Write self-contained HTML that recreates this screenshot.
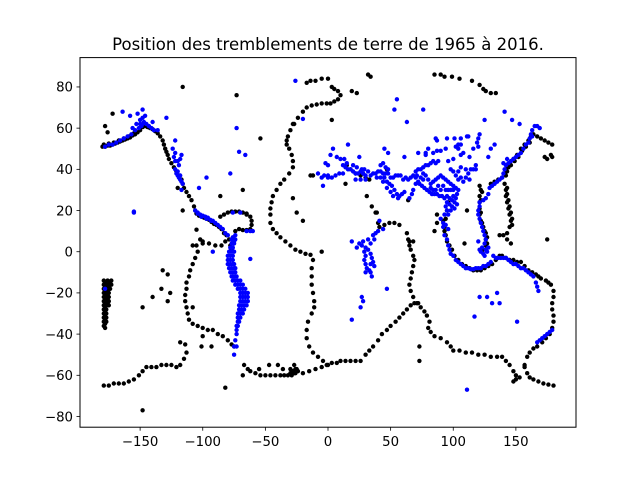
<!DOCTYPE html>
<html><head><meta charset="utf-8"><style>
html,body{margin:0;padding:0;background:#fff;}
svg{display:block;font-family:"DejaVu Sans","Liberation Sans",sans-serif;}
</style></head><body>
<svg id="chart" width="640" height="480" viewBox="0 0 640 480" xmlns="http://www.w3.org/2000/svg">
<rect x="0" y="0" width="640" height="480" fill="#fff"/>
<text x="328" y="50" text-anchor="middle" font-size="16.5" fill="#000">Position des tremblements de terre de 1965 à 2016.</text>
<g id="marks-black"></g>
<g id="marks-blue"></g>
<rect x="80" y="57.6" width="496" height="369.6" fill="none" stroke="#000" stroke-width="1"/>
<g id="xaxis"></g>
<g id="yaxis"></g>
</svg>
<script>
const xTicks = [-150,-100,-50,0,50,100,150];
const yTicks = [-80,-60,-40,-20,0,20,40,60,80];
const blackQuakes = [
[-180,51],[-178,51],[-176,51.5],[-174,51.5],[-172,52],[-170,52.5],[-168,53],[-166,53.5],[-164,54],[-162,54.5],[-160,55],[-158,55.5],[-156,56.5],[-154,57],[-152,58],[-150,59],[-148,60.5],[-146,61],[-144,60.5],[-142,60],[-140,59.5],[-138,58.5],[-136,57.5],[-134,56],
[-179,52],[-175,52.5],[-171,53],[-167,54],[-163,55],[-159,56],[-155,57.5],
[-172,67],[-178,61],[-176,58],
[-132,54],[-131,52],[-130,50],[-129,48.5],[-128,47],[-127,45],[-125,43],[-123,41],[-121,39],[-119,37],[-117,35],[-116,33],[-115,31],[-113,29],[-111,27],[-109,25],[-107,22],[-106,20],
[-86,27],[-68,30],[-116,20],[-120,31],
[-105,18.5],[-103,17.5],[-101,17],[-99,16.5],[-97,16],[-95,15.5],[-93,14.5],[-91,13.5],[-89,13],[-87,12],[-85,11],[-83,9],[-81,8],[-79,6],[-78,3],[-77,1],
[-86,17],[-83,18],[-80,19],[-77,19.5],[-74,19.5],[-71,19.5],[-68,19],[-65,18.5],[-62,17],[-61,15],[-61,13],[-62,11],[-65,10.5],[-68,10.5],[-71,11],[-74,10],[-65,18],
[-105,10.7],[-102,6],[-100,5],[-108,3],
[-17,70],[-20,68],[-24,65],[-27,62],[-30,59],[-32,56],[-33,54],[-33,52],[-31,50],[-29,47],[-28,44],[-28,41],[-31,38],[-35,35],[-38,33],[-41,30],[-44,27],[-45,24],[-46,21],[-46,18],[-46,14],[-44,11],[-41,9],[-38,7],[-34,5],[-30,3],[-26,1],[-22,0],[-18,-1],[-14,-1.5],[-12,-4],
[-13,71],[-9,71.5],[-5,72],[-1,72],[2,72],[5,73],[8,74],[10,76],[8,78],[5,79],[3,80],[-17,82],[-14,83],[-10,83],[-5,84],[0,84],[19,78],[23,77],[32,86],[34,85],[85,86],[90,86],[93,85],[99,85],[105,84],[115,83],[121,81],[124,79],[126,78],[130,77],[134,77],
[-116,80],[-73,76],[-54,55],[3,64],[-28,62],
[-13,-8],[-13,-12],[-13,-16],[-12,-20],[-11,-24],[-11,-27],[-13,-30],[-16,-34],[-17,-38],[-17,-42],[-15,-46],[-12,-49],[-8,-51],[-4,-53],[-1,-55],
[-28,26],[-25,19],[-14,37],[-12,37],[-20,15],
[-27,-55],[-26,-57],[-27,-59],[-29,-60],[-28,-58],[-30,-57],[-32,-60],[-35,-60],[-38,-60],[-42,-60],[-46,-60],[-50,-60],[-54,-60],[-58,-59],[-62,-58],[-64,-57],[-67,-55],[-68,-60],[-47,-55],[-40,-55],[-55,-57],[-36,-57],[-20,-59],[-15,-58],[-10,-57],[-5,-56],[0,-55],[-24,-58],[-30,-59],[-26,-59],[-25,-57],[-29,-58],
[3,-54],[7,-54],[10,-53],[14,-53],[18,-53],[22,-53],[26,-53],[30,-50],[33,-48],[36,-46],[40,-43],[43,-40],[47,-38],[50,-36],[54,-34],[57,-32],[60,-30],[63,-28],[66,-26],[69,-25],[72,-25],
[64,6],[65,3],[66,1],[68,-2],[69,-4],[68,-7],[67,-10],[66,-13],[65,-16],[66,-19],[68,-22],[71,-25],
[65,5],[63,9],[57,13],[53,14],[49,14],[45,13],[41,12],[31,27],[35,22],[38,19],
[74,-27],[77,-29],[79,-31],[81,-34],[80,-37],[82,-39],[85,-41],[90,-42],[95,-44],[98,-46],[100,-48],[105,-48],[110,-49],[115,-49],[120,-50],[125,-50],[130,-51],[135,-51],[139,-51],[142,-53],[145,-55],[148,-58],[150,-60],[153,-61],[150,-62],[148,-63],
[73,-46],[73,-53],
[157,-56],[159,-59],[161,-61],[164,-62],[168,-63],[172,-64],[176,-64.5],[180,-65],
[157,-55],[159,-51],[161,-49],[164,-47],[167,-46],[171,-44],[174,-42],[177,-40],[179,-37],[180,-34],[180,-31],[179,-28],[179,-25],[180,-22],[180,-19],[178,-16],[176,-15],[174,-14],
[170,-13],[168,-12],[166,-11],[163,-10],[160,-9],[157,-7],[154,-5],[151,-5],[148,-4],[145,-4],[142,-3],[139,-2],[137,-2],[134,-4],[131,-6],[128,-7],[125,-8],[122,-9],[119,-9],[116,-9],[113,-8],[110,-7],[107,-6],[104,-4],[101,-2],[99,1],[97,3],[95,5],[94,8],[93,12],[94,16],[95,20],[96,24],[92,15],[93,10],
[122,30],[121,27],[121,24],[121,21],[121,18],[122,15],[124,12],[126,9],[126,6],[126,3],[124,1],
[123,29],[122,25],[122,19],[123,14],[125,10],[127,7],[127,4],
[130,33],[133,34],[136,35],[139,36],[141,38],[142,40],[143,42],[145,43],[148,45],[151,47],[154,50],[157,52],[160,54],[162,56],[164,57],[167,56],[170,55],[173,54],[176,53],[179,52],
[142,37],[143,39],[144,41],[146,42],[149,44],[152,46],[155,49],[158,51],[161,53],
[141,33],[142,30],[142,27],[143,24],[144,21],[145,18],[146,15],[145,12],[143,9],[140,8],[137,8],[143,6],[146,4],
[143,31],[143,28],[144,25],[145,22],[146,19],[147,16],[147,13],
[15,42],[18,40],[22,38],[26,37],[28,38],[30,36],[33,35],[47,40],[64,25],[14,33],
[39,19],[40,14],[68,5],[85,10],[87,18],[111,20],[121,32],[175,45],[179,46],[175,6],[109,4],[87,14],[173,46],[178,47],
[-105,3],[-100,4],[-95,4],[-90,3],[-85,3],[-82,5],
[-104,0],[-106,-3],[-108,-6],[-110,-9],[-111,-12],[-113,-15],[-113,-18],[-114,-21],[-114,-24],[-113,-27],[-112,-30],[-111,-33],[-108,-35],[-104,-36],[-100,-37],[-96,-38],[-92,-38],[-88,-40],[-84,-41],[-80,-43],[-77,-45],[-75,-46],
[-113,-49],[-115,-52],[-118,-55],[-121,-56],[-125,-55],[-129,-55],[-133,-55],[-137,-56],[-141,-56],[-145,-56],[-148,-58],[-151,-60],[-155,-62],[-159,-63],[-163,-64],[-167,-64],[-171,-64],[-175,-65],[-179,-65],[-114,-45],[-118,-44],
[-132,-9],[-128,-11],[-133,-18],[-126,-20],[-140,-22],[-128,-24],[-148,-27],[-108,-27],[-100,-41],[-93,-46],[-101,-46],[-82,-66],[-148,-77],[-5,0],
[-179,-14],[-176,-14],[-173,-14],[-179,-16],[-176,-16],[-173,-16],[-179,-18],[-176,-18],[-174,-18],[-179,-20],[-177,-20],[-175,-20],[-179,-22],[-177,-22],[-175,-22],[-179,-24],[-177,-24],[-175,-24],[-179,-26],[-177,-26],[-175,-26],[-179,-28],[-177,-28],[-179,-30],[-177,-30],[-179,-32],[-177,-32],[-179,-34],[-177,-34],[-179,-36],[-178,-37],
[-178,-15],[-174,-15],[-178,-17],[-175,-17],[-178,-19],[-176,-19],[-178,-21],[-176,-21],[-178,-23],[-176,-23],[-178,-25],[-176,-25],[-178,-27],[-178,-29],[-178,-31],[-178,-33],[-178,-35]
];
const blueQuakes = [
[-158,66],[-152,67],[-146,66],[-150,64],[-147,63],[-153,62],[-149,61],[-151,60],[-154,59],[-157,57],[-160,56],[-163,55],[-166,54],[-169,53],[-172,52],[-175,52],[-178,51],[-145,62],[-143,61],[-141,60],[-139,59],[-136,59],[-148,62],[-150,62],[-156,60],[-140,63],[-148,65],[-164,68],[-148,69],
[-122,40],[-121,38],[-120,37],[-119,36],[-118,35],[-117,34],[-116,33],[-120,39],[-118,37],[-123,46],[-122,44],[-122,48],[-120,44],[-118,45],[-117,47],[-119,42],[-117,30],[-124,50],
[-78,38],[-97,36],[-103,31],[-71,48.5],[-66,47],[-73,60],[-122,54],[-129,65],[-26,83],
[-155,19.5],[-155,19],
[-106,20],[-104,18.5],[-102,18],[-100,17.5],[-98,17],[-96,16.5],[-94,15.5],[-92,15],[-90,14],[-88,13],[-86,12],[-84,11],[-82,9],[-80,8],[-104,19],[-101,17],[-97,16],[-93,15],
[-76,19],[-70,19],[-65,10],[-62,10],[-60,10],[-74,8],[-75,5],[-76,7],
[-77,6],[-74,6],[-77,4],[-75,4],[-78,2],[-76,2],[-79,0],[-77,0],[-75,0],[-80,-2],[-78,-2],[-76,-2],[-80,-4],[-78,-4],[-76,-4],[-80,-6],[-78,-6],[-76,-6],[-75,-6],[-79,-8],[-77,-8],[-75,-8],[-74,-8],[-78,-10],[-76,-10],[-74,-10],[-77,-12],[-75,-12],[-73,-12],[-76,-14],[-74,-14],[-72,-14],[-70,-14],[-74,-16],[-72,-16],[-70,-16],[-68,-16],[-72,-18],[-70,-18],[-68,-18],[-66,-18],[-70,-20],[-68,-20],[-66,-20],[-64,-20],[-70,-22],[-68,-22],[-66,-22],[-64,-22],[-70,-24],[-68,-24],[-66,-24],[-64,-24],[-71,-26],[-69,-26],[-67,-26],[-65,-26],[-71,-28],[-69,-28],[-67,-28],[-72,-30],[-70,-30],[-68,-30],[-72,-32],[-70,-32],[-72,-34],[-71,-34],[-73,-36],[-72,-36],[-73,-38],[-73,-40],[-74,-43],[-75,-46],[-73,-46],[-75,-50],
[-62,-3.5],[-92,0],
[-20,64.5],[0,42],[0,37],[-4,32],
[-5,36],[-3,37],[0,36],[3,36],[6,37],[9,38],[12,38],[12,42],[14,41],[16,40],[18,40],[20,39],[22,38],[24,38],[26,39],[28,38],[30,37],[27,40],[23,41],[20,42],[15,43],[13,45],[10,45],[7,46],[2,47],[-2,43],[29,40],[32,39],[34,37],[26,35],[22,35],[30,35],[25,46],[-8,38],
[36,38],[38,38],[40,39],[42,39],[44,38],[46,38],[48,38],[45,36],[47,34],[49,33],[51,32],[53,30],[55,28],[57,27],[59,28],[61,29],[50,36],[52,36],[54,37],[56,37],[58,37],[60,35],[47,31],[50,29],[52,27],[56,26],[44,34],[42,36],[39,36],[48,40],[46,41],[44,43],[42,42],
[62,36],[64,35],[66,36],[68,37],[70,36],[71,37],[70,39],[72,40],[74,40],[76,41],[78,42],[80,42],[82,43],[84,44],[86,43],[88,44],[74,36],[76,35],[72,34],[70,33],[68,30],[67,28],[65,26],[73,33],[75,32],[77,31],[79,30],[81,29],[83,28],[85,28],[87,28],[89,27],[91,27],[93,26],[95,27],[95,24],[94,22],[95,20],[96,18],[97,26],[99,25],[101,24],[100,27],[102,26],[103,28],[104,30],[102,31],[100,32],[98,33],[96,34],[94,35],[92,36],[90,37],[88,36],[86,35],[84,34],[82,33],[80,35],[78,37],[76,38],[90,30],[92,32],[94,30],[96,30],[98,30],[100,30],[88,32],[86,30],[84,30],[82,31],[103,23],[101,21],[99,22],[97,23],[104,35],[106,36],[102,37],[100,39],[98,40],[104,39],[106,41],[108,34],[110,36],[112,38],[114,40],[116,40],[118,40],[113,35],[98,20],[93,18],[92,14],[90,16],[94,13],[96,11],[104,50],[102,51],[106,47],[94,50],[90,49],[87,49],[100,45],[96,44],[108,48],[113,46],[80,50],[78,47],[84,48],[110,40],[118,42],[116,50],[119,53],[120,51],[106,52],[86,55],[48,48],[45,50],[61,46],
[55,74],[53,69],[76,69],[63,63],[125,64],[147,64],[141,68],[153,62],[111,56],[121,57],[95,55],[87,54],[4,50],[16,52],[112,56],[106,55],[101,55],[104,52],[120,55],[130,50],[128,46],[133,52],[72,48],[78,48],
[160,53],[158,52],[156,50],[154,48],[152,47],[150,46],[148,45],[146,44],[144,43],[142,42],[141,40],[140,38],[139,36],[137,35],[135,34],[133,33],[131,32],[129,31],[161,55],[162,57],[163,59],[165,61],[167,61],[169,60],[163,56],[140,43],[143,45],
[121,24],[121,22],[120,20],[120,18],[121,16],[122,14],[123,12],[124,10],[125,8],[126,6],[125,4],[123,2],[122,0],[121,1],[120,5],[126,1],[124,-1],[128,28],[126,26],[124,25],
[95,6],[96,3],[97,1],[98,-1],[100,-2],[102,-4],[104,-5],[106,-6],[108,-7],[110,-8],[112,-8],[114,-8.5],[116,-8.5],[118,-8],[120,-8],[122,-8],[124,-7],[126,-7],[128,-6],[130,-5],[132,-2],[134,-3],[136,-3],[138,-3],[140,-3],[142,-3],[144,-4],[146,-5],[148,-6],[150,-6],[152,-7],[154,-8],[156,-8],[158,-9],[160,-10],[162,-11],[164,-12],[166,-15],[167,-17],[168,-19],[127,0],[128,2],[125,-2],
[167,-44],[169,-43],[171,-42],[173,-41],[175,-40],[177,-39],[179,-38],[-178,-18],
[28,5],[30,2],[29,0],[30,-2],[29,-4],[30,-6],[31,-8],[33,-9],[34,-10],[35,-12],[27,3],[32,1],[34,-1],[35,-3],[36,-5],[34,-6],[30,-10],[37,-7],[25,4],[23,2],[34,4],[36,8],[38,9],[40,10],[26,-27],[19,-33],[47,-18],[28,-24],[27,-22],
[111,-67],[117,-31.5],[121,-22],[127,-22],[131,-25],[135,-20],[137,-25],[151,-34],
[41,15],[44,11],[32,6],[37,6],[19,5],[92,12],[93,8]
];
const XMIN=-198, XMAX=198, YMIN=-85.2, YMAX=94.25;
const L=80, R=576, T=57.6, B=427.2;
function xScale(v){return L+(v-XMIN)/(XMAX-XMIN)*(R-L);}
function yScale(v){return T+(YMAX-v)/(YMAX-YMIN)*(B-T);}
const NS="http://www.w3.org/2000/svg";
function drawSeries(gid, data, color){
  const g=document.getElementById(gid);
  data.forEach(function(p){
    const c=document.createElementNS(NS,"circle");
    c.setAttribute("cx",xScale(p[0]).toFixed(1));
    c.setAttribute("cy",yScale(p[1]).toFixed(1));
    c.setAttribute("r","2.2");
    c.setAttribute("fill",color);
    
    
    g.appendChild(c);
  });
}
drawSeries("marks-black", blackQuakes, "#000");
drawSeries("marks-blue", blueQuakes, "#0000ff");
function fmt(v){return v<0?"\u2212"+Math.abs(v):String(v);}
const xa=document.getElementById("xaxis");
xTicks.forEach(function(t){
  const x=xScale(t);
  const ln=document.createElementNS(NS,"line");
  ln.setAttribute("x1",x);ln.setAttribute("x2",x);ln.setAttribute("y1",B);ln.setAttribute("y2",B+3.5);
  ln.setAttribute("stroke","#000");ln.setAttribute("stroke-width","0.8");
  
  
  xa.appendChild(ln);
  const tx=document.createElementNS(NS,"text");
  tx.setAttribute("x",x);tx.setAttribute("y",B+19);tx.setAttribute("text-anchor","middle");tx.setAttribute("font-size","13.3");
  tx.textContent=fmt(t);
  
  
  xa.appendChild(tx);
});
const ya=document.getElementById("yaxis");
yTicks.forEach(function(t){
  const y=yScale(t);
  const ln=document.createElementNS(NS,"line");
  ln.setAttribute("x1",L-3.5);ln.setAttribute("x2",L);ln.setAttribute("y1",y);ln.setAttribute("y2",y);
  ln.setAttribute("stroke","#000");ln.setAttribute("stroke-width","0.8");
  
  
  ya.appendChild(ln);
  const tx=document.createElementNS(NS,"text");
  tx.setAttribute("x",L-7);tx.setAttribute("y",y+4.8);tx.setAttribute("text-anchor","end");tx.setAttribute("font-size","13.3");
  tx.textContent=fmt(t);
  
  
  ya.appendChild(tx);
});
</script>
</body></html>
